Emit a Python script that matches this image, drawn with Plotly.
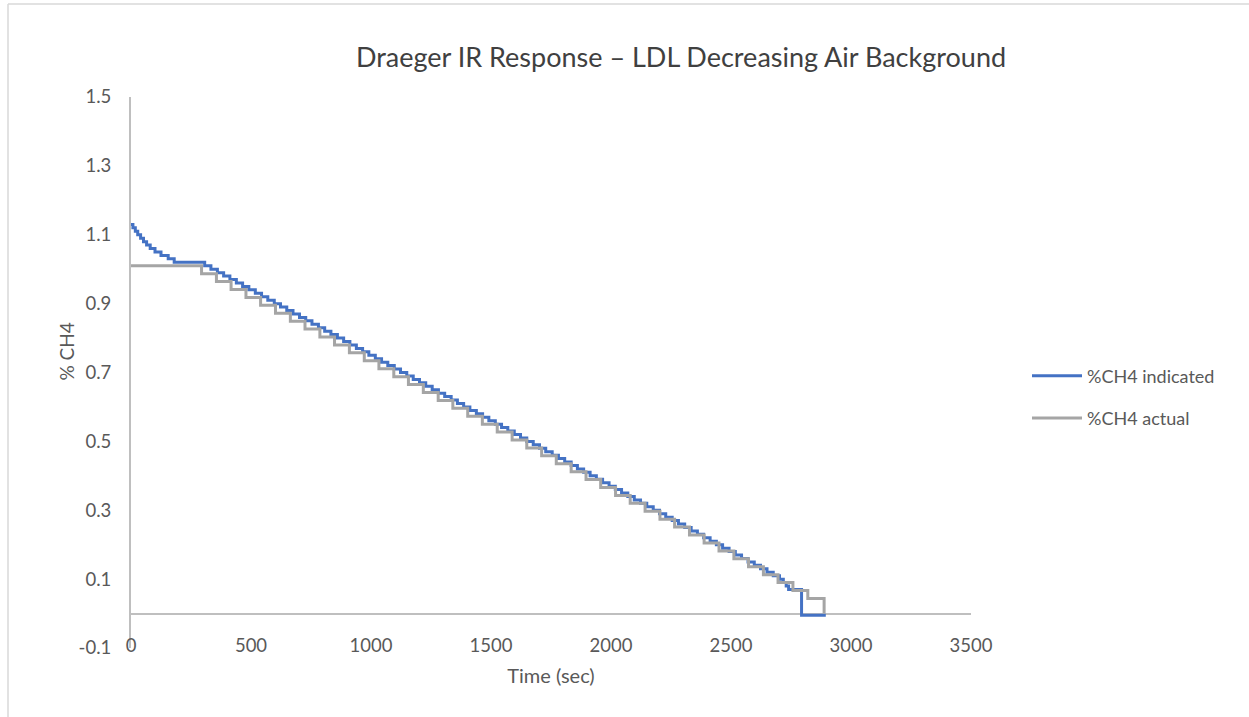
import plotly.graph_objects as go

# ---------------- data ----------------
# %CH4 actual: step levels (value holds from this time until the next time)
actual_time = [0, 294, 356, 417, 479, 540, 602, 664, 725, 787, 848, 910, 972,
               1033, 1095, 1156, 1218, 1280, 1341, 1403, 1464, 1526, 1588, 1649,
               1711, 1772, 1834, 1896, 1957, 2019, 2080, 2142, 2204, 2265, 2327,
               2388, 2450, 2512, 2573, 2635, 2696, 2758, 2820, 2888]
actual_ch4 = [1.010, 0.987, 0.964, 0.941, 0.918, 0.895, 0.872, 0.849, 0.826,
              0.803, 0.780, 0.757, 0.734, 0.711, 0.688, 0.665, 0.642, 0.619,
              0.596, 0.573, 0.550, 0.527, 0.504, 0.481, 0.458, 0.435, 0.412,
              0.389, 0.366, 0.343, 0.320, 0.297, 0.274, 0.251, 0.228, 0.205,
              0.182, 0.159, 0.136, 0.113, 0.090, 0.067, 0.044, 0.000]

# %CH4 indicated: times at which the displayed reading changes, and the new reading
indicated_time = [0, 8, 18, 28, 40, 52, 65, 80, 100, 125, 155, 180,
                  307, 333, 360, 386, 412, 439, 465, 491, 518, 544, 570, 597,
                  623, 649, 675, 702, 728, 754, 781, 807, 833, 860, 886, 912,
                  939, 965, 991, 1018, 1044, 1070, 1097, 1123, 1149, 1176, 1202,
                  1228, 1255, 1281, 1307, 1334, 1360, 1386, 1412, 1439, 1465,
                  1491, 1518, 1544, 1570, 1597, 1623, 1649, 1676, 1702, 1728,
                  1755, 1781, 1807, 1834, 1860, 1886, 1913, 1939, 1965, 1992,
                  2018, 2044, 2070, 2097, 2123, 2149, 2176, 2202, 2228, 2255,
                  2281, 2307, 2334, 2360, 2386, 2413, 2439, 2465, 2492, 2518,
                  2544, 2571, 2597, 2623, 2650, 2676, 2702, 2718, 2730, 2740,
                  2794, 2895]
indicated_ch4 = [1.13, 1.12, 1.11, 1.10, 1.09, 1.08, 1.07, 1.06, 1.05, 1.04, 1.03, 1.02,
                 1.01, 1.00, 0.99, 0.98, 0.97, 0.96, 0.95, 0.94, 0.93, 0.92, 0.91, 0.90,
                 0.89, 0.88, 0.87, 0.86, 0.85, 0.84, 0.83, 0.82, 0.81, 0.80, 0.79, 0.78,
                 0.77, 0.76, 0.75, 0.74, 0.73, 0.72, 0.71, 0.70, 0.69, 0.68, 0.67,
                 0.66, 0.65, 0.64, 0.63, 0.62, 0.61, 0.60, 0.59, 0.58, 0.57,
                 0.56, 0.55, 0.54, 0.53, 0.52, 0.51, 0.50, 0.49, 0.48, 0.47,
                 0.46, 0.45, 0.44, 0.43, 0.42, 0.41, 0.40, 0.39, 0.38, 0.37,
                 0.36, 0.35, 0.34, 0.33, 0.32, 0.31, 0.30, 0.29, 0.28, 0.27,
                 0.26, 0.25, 0.24, 0.23, 0.22, 0.21, 0.20, 0.19, 0.18, 0.17,
                 0.16, 0.15, 0.14, 0.13, 0.12, 0.11, 0.10, 0.09, 0.08, 0.07,
                 -0.005, -0.005]

x_ticks = [0, 500, 1000, 1500, 2000, 2500, 3000, 3500]
y_ticks = [-0.1, 0.1, 0.3, 0.5, 0.7, 0.9, 1.1, 1.3, 1.5]
y_tick_text = ["-0.1", "0.1", "0.3", "0.5", "0.7", "0.9", "1.1", "1.3", "1.5"]

title_text = "Draeger IR Response \u2013 LDL Decreasing Air Background"

# ---------------- figure ----------------
FONT = "Lato, 'Open Sans', sans-serif"
TXT = "#595959"
AX = "#BFBFBF"

W, H = 1249, 717
L, R, T, B = 131, 278, 97, 69
PW, PH = W - L - R, H - T - B


def px_x(p):
    return (p - L) / PW


def px_y(p):
    return (H - B - p) / PH


fig = go.Figure()
fig.add_trace(go.Scatter(
    x=indicated_time, y=indicated_ch4, mode="lines", name="%CH4 indicated",
    line=dict(color="#4472C4", width=3, shape="hv"), legendgroup="a", legendrank=1))
fig.add_trace(go.Scatter(
    x=actual_time, y=actual_ch4, mode="lines", name="%CH4 actual",
    line=dict(color="#A5A5A5", width=3, shape="hv"), legendgroup="b", legendrank=2))

fig.update_layout(
    width=W, height=H,
    margin=dict(l=L, r=R, t=T, b=B, autoexpand=False),
    paper_bgcolor="white", plot_bgcolor="white",
    font=dict(family=FONT, size=18, color=TXT),
    title=dict(text=title_text, x=681 / W, xanchor="center", y=1 - 58 / H,
               yanchor="middle", xref="container", yref="container",
               font=dict(family=FONT, size=27, color="#404040")),
    legend=dict(x=px_x(1027), xanchor="left", y=px_y(397), yanchor="middle",
                font=dict(family=FONT, size=18, color=TXT),
                tracegroupgap=16, itemwidth=50, bgcolor="rgba(0,0,0,0)"),
    showlegend=True,
)

fig.update_xaxes(
    range=[0, 3500], tickvals=x_ticks, ticktext=[str(v) for v in x_ticks],
    showgrid=False, zeroline=False, showline=False, ticks="",
    ticklabelstandoff=-16,
    tickfont=dict(family=FONT, size=18.5, color=TXT),
    title=dict(text="Time (sec)", font=dict(family=FONT, size=20, color=TXT), standoff=14),
)
fig.update_yaxes(
    range=[-0.1, 1.5], tickvals=y_ticks, ticktext=y_tick_text,
    showgrid=False, showline=True, linecolor=AX, linewidth=2,
    zeroline=True, zerolinecolor=AX, zerolinewidth=2,
    ticks="", ticklabelstandoff=14,
    tickfont=dict(family=FONT, size=18.5, color=TXT),
)

fig.add_annotation(text="% CH4", textangle=-90, x=px_x(52), y=px_y(352),
                   xref="paper", yref="paper", showarrow=False,
                   font=dict(family=FONT, size=19, color=TXT))

# chart-area border (top and left edges visible in the reference)
fig.add_shape(type="line", xref="paper", yref="paper",
              x0=px_x(8), x1=px_x(8), y0=px_y(730), y1=px_y(4),
              line=dict(color="#D9D9D9", width=1.5))
fig.add_shape(type="line", xref="paper", yref="paper",
              x0=px_x(8), x1=px_x(1260), y0=px_y(4), y1=px_y(4),
              line=dict(color="#D9D9D9", width=1.5))

fig.write_html("out.html")
